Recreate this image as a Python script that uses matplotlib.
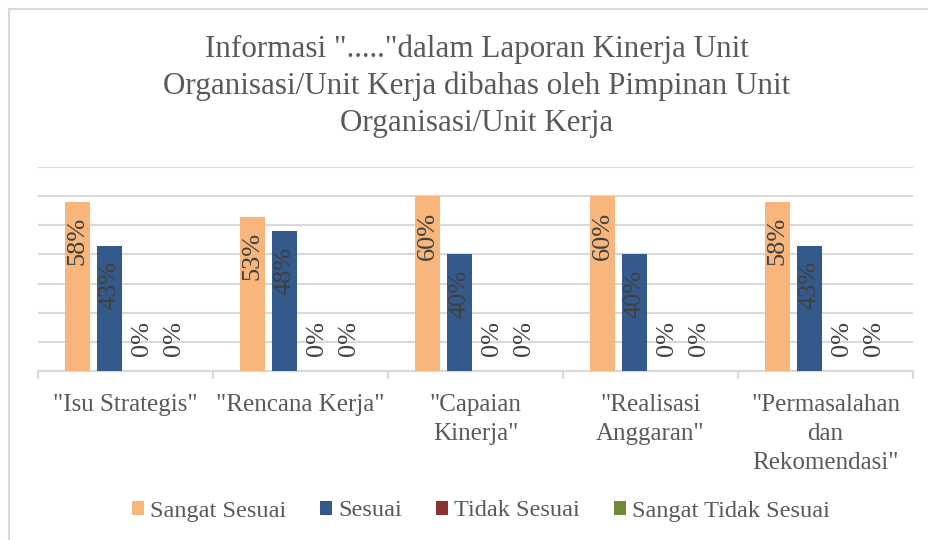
import matplotlib
matplotlib.use("Agg")
import matplotlib.pyplot as plt
import numpy as np
from matplotlib.lines import Line2D

categories = ['"Isu Strategis"', '"Rencana Kerja"', '"Capaian\nKinerja"',
              '"Realisasi\nAnggaran"', '"Permasalahan\ndan\nRekomendasi"']
series_names = ["Sangat Sesuai", "Sesuai", "Tidak Sesuai", "Sangat Tidak Sesuai"]
sangat_sesuai = [58, 53, 60, 60, 58]
sesuai = [43, 48, 40, 40, 43]
tidak_sesuai = [0, 0, 0, 0, 0]
sangat_tidak_sesuai = [0, 0, 0, 0, 0]
series_values = [sangat_sesuai, sesuai, tidak_sesuai, sangat_tidak_sesuai]
colors = ["#F8B67C", "#335A8A", "#8B3230", "#6E8B35"]
title = 'Informasi "....."dalam Laporan Kinerja Unit\nOrganisasi/Unit Kerja dibahas oleh Pimpinan Unit\nOrganisasi/Unit Kerja'

plt.rcParams['font.family'] = ['Liberation Serif', 'DejaVu Serif']
text_color = "#595959"
grid_color = "#D9D9D9"

W, H = 929, 540
fig = plt.figure(figsize=(W / 100, H / 100), dpi=100)
ax = fig.add_axes([38 / W, 1 - 371 / H, (913 - 38) / W, (371 - 167) / H])

x = np.arange(len(categories))
step = 0.183
width = 0.14
for i, (vals, col, name) in enumerate(zip(series_values, colors, series_names)):
    xs = x + (i - 1.5) * step
    ax.bar(xs, vals, width=width, color=col, label=name, zorder=3)
    for xx, v in zip(xs, vals):
        lbl = f"{v}%"
        if v > 0:
            ax.annotate(lbl, (xx, v), xytext=(0, -11), textcoords="offset points",
                        rotation=90, ha="center", va="top", fontsize=19,
                        color="#404040", zorder=4)
        else:
            ax.annotate(lbl, (xx, v), xytext=(0, 11), textcoords="offset points",
                        rotation=90, ha="center", va="bottom", fontsize=19,
                        color="#404040", zorder=4)

ax.set_xlim(-0.5, len(categories) - 0.5)
ax.set_ylim(0, 70)
ax.set_yticks(np.arange(0, 71, 10))
ax.yaxis.grid(True, color=grid_color, linewidth=1.5, zorder=0)
ax.tick_params(axis="y", length=0, labelleft=False)
ax.set_xticks(x)
ax.set_xticklabels(categories, fontsize=18, color=text_color, linespacing=1.42)
ax.tick_params(axis="x", which="major", length=0, pad=16.5)
ax.set_xticks(np.arange(-0.5, len(categories)), minor=True)
ax.tick_params(axis="x", which="minor", length=6, width=1.5, color=grid_color, direction="out")
for s in ["top", "right", "left"]:
    ax.spines[s].set_visible(False)
ax.spines["bottom"].set_color(grid_color)
ax.spines["bottom"].set_linewidth(1.5)

fig.text(477 / W, 1 - 35 / H, title, ha="center", va="top", fontsize=22.4,
         color=text_color, linespacing=1.33)

handles, labels = ax.get_legend_handles_labels()
fig.legend(handles, labels, loc="center", bbox_to_anchor=(481 / W, 1 - 511 / H),
           ncol=4, frameon=False, fontsize=17.5, handlelength=0.5, handleheight=0.5,
           handletextpad=0.25, columnspacing=1.4, labelcolor=text_color)

# chart border (left and top visible)
fig.add_artist(Line2D([8.5 / W, 8.5 / W], [0, 1 - 9 / H], transform=fig.transFigure,
                      color=grid_color, linewidth=1.5))
fig.add_artist(Line2D([8.5 / W, 1], [1 - 9 / H, 1 - 9 / H], transform=fig.transFigure,
                      color=grid_color, linewidth=1.5))

fig.savefig("out.png", dpi=100, facecolor="white")
